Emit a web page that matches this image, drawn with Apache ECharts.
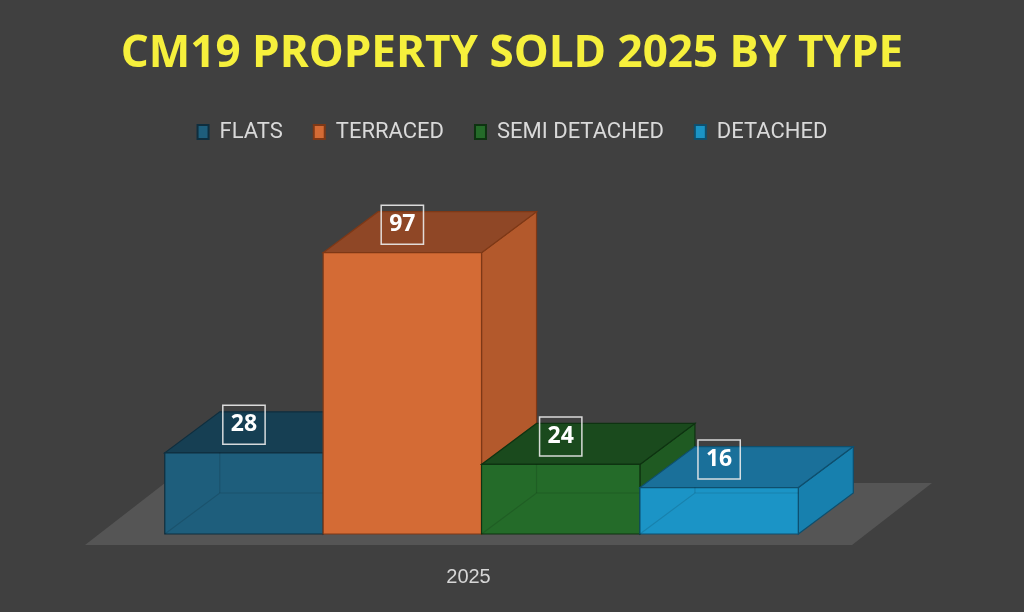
<!DOCTYPE html>
<html>
<head>
<meta charset="utf-8">
<script src="https://cdn.jsdelivr.net/npm/echarts@6/dist/echarts.min.js"></script>
<style>
  html, body { margin: 0; padding: 0; background: #404040; }
  #chart { width: 1024px; height: 612px; }
</style>
</head>
<body>
<div id="chart"></div>
<script>
// data
var categories = ['2025'];
var typeNames = ['FLATS', 'TERRACED', 'SEMI DETACHED', 'DETACHED'];
var flats = [28];
var terraced = [97];
var semiDetached = [24];
var detached = [16];
var seriesValues = [flats, terraced, semiDetached, detached];

// colours per type: front, top, side, edge
var palette = [
  { front: '#1e5e7c', top: '#163f53', side: '#1a4e67', edge: '#0f2e3e' },
  { front: '#d46b35', top: '#8f4726', side: '#b3592c', edge: '#7e3816' },
  { front: '#246b29', top: '#1a4a1d', side: '#1f5a22', edge: '#0e3311' },
  { front: '#1b94c6', top: '#1a709a', side: '#1780ae', edge: '#0e4f6e' }
];

var DX = 55, DY = 41;  // fake depth in px

var chart = echarts.init(document.getElementById('chart'));

function renderFloor(params, api) {
  var p = api.coord([api.value(0), 0]);
  var band = api.size([1, 0])[0];
  var xl = p[0] - band / 2, xr = p[0] + band / 2;
  var yf = p[1] + 11, yb = p[1] - 51;
  return {
    type: 'polygon',
    shape: { points: [[xl, yf], [xr, yf], [xr + 80, yb], [xl + 80, yb]] },
    style: { fill: '#555555' }
  };
}

function renderBox(params, api) {
  var i = params.seriesIndex - 1;
  var c = palette[i];
  var base = api.coord([api.value(0), 0]);
  var top = api.coord([api.value(0), api.value(1)]);
  var band = api.size([1, 0])[0];
  var bw = band * 0.2065;
  var x0 = base[0] + band * 0.017 - 2 * bw + i * bw;
  var x1 = x0 + bw;
  var yb = base[1], yt = top[1];
  var edge = { stroke: c.edge, lineWidth: 1.2 };
  // the tall one hides its inner edges
  var inner = api.value(1) > 50 ? 'rgba(0,0,0,0)' : 'rgba(0,0,0,0.12)';
  return {
    type: 'group',
    children: [
      {
        type: 'polygon',
        shape: { points: [[x1, yb], [x1, yt], [x1 + DX, yt - DY], [x1 + DX, yb - DY]] },
        style: Object.assign({ fill: c.side }, edge)
      },
      {
        type: 'polygon',
        shape: { points: [[x0, yt], [x1, yt], [x1 + DX, yt - DY], [x0 + DX, yt - DY]] },
        style: Object.assign({ fill: c.top }, edge)
      },
      {
        type: 'rect',
        shape: { x: x0, y: yt, width: bw, height: yb - yt },
        style: Object.assign({ fill: c.front }, edge)
      },
      {
        type: 'polyline',
        shape: { points: [[x0, yb], [x0 + DX, yb - DY], [x1, yb - DY]] },
        style: { stroke: inner, lineWidth: 1.2, fill: null }
      },
      {
        type: 'line',
        shape: { x1: x0 + DX, y1: yb - DY, x2: x0 + DX, y2: Math.min(yb - DY, yt) },
        style: { stroke: inner, lineWidth: 1.2 }
      },
      {
        type: 'text',
        x: (x0 + x1) / 2,
        y: yt - 28,
        style: {
          text: String(api.value(1)),
          fill: '#ffffff',
          font: 'bold 23px "Open Sans", "DejaVu Sans", sans-serif',
          align: 'center',
          verticalAlign: 'middle',
          borderColor: 'rgba(235,235,235,0.9)',
          borderWidth: 1.5,
          padding: [8, 8, 8, 8]
        }
      }
    ]
  };
}

var series = [{
  type: 'custom',
  name: 'floor',
  renderItem: renderFloor,
  data: categories.map(function (c, k) { return [k, 0]; }),
  silent: true,
  z: 1
}];
typeNames.forEach(function (name, i) {
  series.push({
    type: 'custom',
    name: name,
    renderItem: renderBox,
    itemStyle: { color: palette[i].front, borderColor: palette[i].edge, borderWidth: 1 },
    data: seriesValues[i].map(function (v, k) { return [k, v]; }),
    z: 2 + i
  });
});

chart.setOption({
  backgroundColor: '#404040',
  animation: false,
  title: {
    text: 'CM19 PROPERTY SOLD 2025 BY TYPE',
    left: 'center',
    top: 27,
    textStyle: {
      color: '#f6f03c',
      fontSize: 44,
      fontWeight: 'bold',
      fontFamily: '"Open Sans", "Noto Sans", sans-serif'
    }
  },
  legend: {
    data: typeNames,
    top: 116,
    left: 'center',
    icon: 'rect',
    itemWidth: 11,
    itemHeight: 14,
    itemGap: 30,
    textStyle: {
      color: '#d9d9d9',
      fontSize: 22,
      fontFamily: 'Roboto, sans-serif',
      padding: [0, 0, 0, 6]
    }
  },
  grid: { left: 85, right: 172, top: 244, bottom: 78 },
  xAxis: {
    type: 'category',
    data: categories,
    axisLine: { show: false },
    axisTick: { show: false },
    axisLabel: {
      color: '#d6d6d6',
      fontSize: 20,
      margin: 33,
      fontFamily: '"Liberation Sans", Arial, sans-serif'
    }
  },
  yAxis: {
    type: 'value',
    min: 0,
    max: 100,
    show: false,
    splitLine: { show: false }
  },
  series: series
});
</script>
</body>
</html>
